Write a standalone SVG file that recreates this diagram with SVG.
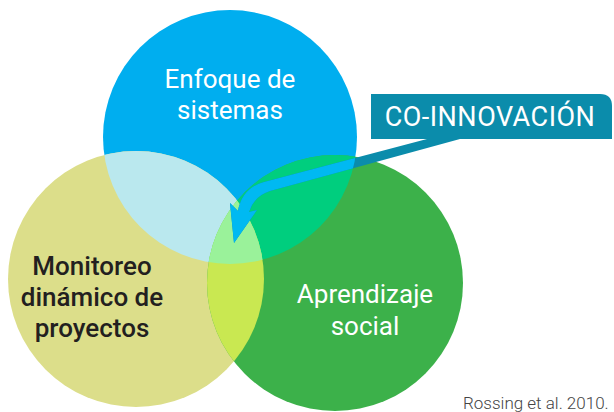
<svg xmlns="http://www.w3.org/2000/svg" width="614" height="412" viewBox="0 0 614 412">
  <style>
    .lbl { font-family: Roboto, "Liberation Sans", sans-serif; text-anchor: middle; font-size: 26px; }
    .w { fill: #ffffff; }
    .dk { fill: #231f20; font-weight: 500; }
  </style>
  <defs>
    <clipPath id="cBlue"><circle cx="230" cy="137" r="127"/></clipPath>
    <clipPath id="cYellow"><circle cx="136" cy="279" r="128"/></clipPath>
    <clipPath id="cGreen"><circle cx="335" cy="283" r="128"/></clipPath>
  </defs>
  <rect width="614" height="412" fill="#ffffff"/>

  <g id="node-blue">
    <circle cx="230" cy="137" r="127" fill="#00aeef"/>
  </g>
  <g id="node-yellow">
    <circle cx="136" cy="279" r="128" fill="#dcde8a"/>
  </g>
  <g id="node-green">
    <circle cx="335" cy="283" r="128" fill="#3cb14a"/>
  </g>

  <g id="overlaps">
    <g clip-path="url(#cBlue)">
      <circle cx="136" cy="279" r="128" fill="#bae8ee"/>
      <circle cx="335" cy="283" r="128" fill="#00ce7e"/>
    </g>
    <g clip-path="url(#cYellow)">
      <circle cx="335" cy="283" r="128" fill="#c9e851"/>
      <g clip-path="url(#cBlue)">
        <circle cx="335" cy="283" r="128" fill="#9af29a"/>
      </g>
    </g>
  </g>

  <g id="connectors">
    <path id="arrow" d="M 427 139 L 460 139 L 270 191 Q 254 196 249 212 L 257 210 L 234 243 L 230 203 L 238 211 Q 242 188 264 182 Z" fill="#0b8cab"/>
    <g clip-path="url(#cBlue)">
      <path d="M 427 139 L 460 139 L 270 191 Q 254 196 249 212 L 257 210 L 234 243 L 230 203 L 238 211 Q 242 188 264 182 Z" fill="#00b9f2"/>
    </g>
  </g>

  <g id="node-callout">
    <path d="M 371 94 H 600 Q 612 94 612 106 V 139 H 371 Z" fill="#0b8cab"/>
    <text class="lbl w" x="490" y="126" style="font-size:27px; letter-spacing:0.5px">CO-INNOVACIÓN</text>
  </g>

  <g id="labels">
    <text class="lbl w" x="230" y="88">Enfoque de</text>
    <text class="lbl w" x="230" y="119">sistemas</text>
    <text class="lbl dk" x="92" y="275">Monitoreo</text>
    <text class="lbl dk" x="92" y="306">dinámico de</text>
    <text class="lbl dk" x="92" y="337">proyectos</text>
    <text class="lbl w" x="365" y="303">Aprendizaje</text>
    <text class="lbl w" x="365" y="335">social</text>
  </g>

  <text id="source" x="463" y="409" style="font-family: Roboto, 'Liberation Sans', sans-serif; font-size:17px; font-weight:300; fill:#444444">Rossing et al. 2010.</text>
</svg>
